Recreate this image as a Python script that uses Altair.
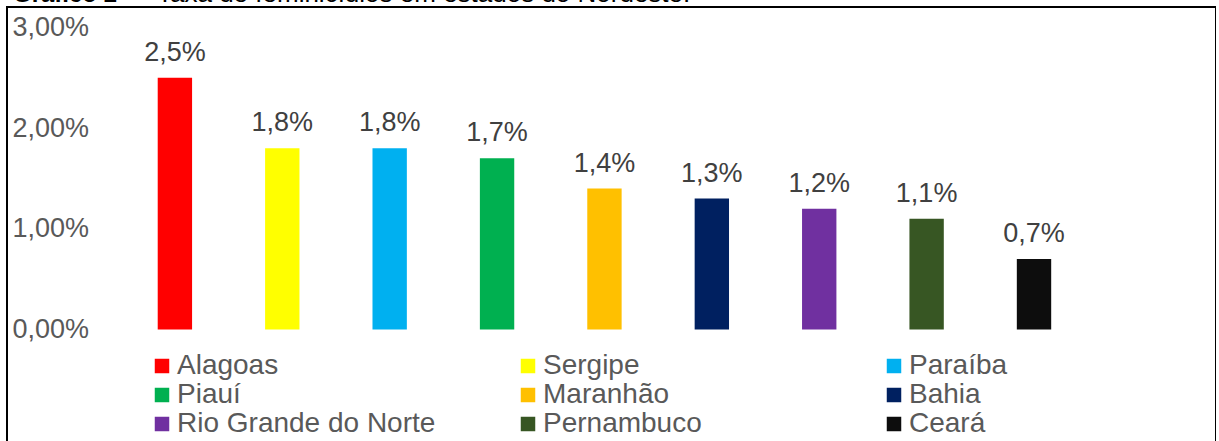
import altair as alt
import pandas as pd

# ---- data ----
states = ["Alagoas", "Sergipe", "Paraíba", "Piauí", "Maranhão", "Bahia",
          "Rio Grande do Norte", "Pernambuco", "Ceará"]
rates = [2.5, 1.8, 1.8, 1.7, 1.4, 1.3, 1.2, 1.1, 0.7]
colors = ["#FF0000", "#FFFF00", "#00B0F0", "#00B050", "#FFC000", "#002060",
          "#7030A0", "#375623", "#0D0D0D"]
y_ticks = [0, 1, 2, 3]
title_bold = "Gráfico 2 –"
title_rest = "Taxa de feminicídios em estados do Nordeste."

df = pd.DataFrame({"estado": states, "taxa": rates})
one = pd.DataFrame({"k": [0]})

FONT = "Liberation Sans"
W, H = 1209, 434

x_enc = alt.X("estado:N", sort=states, axis=None,
              scale=alt.Scale(range=[114.2, 1080.7], paddingInner=0.68, paddingOuter=0.34))
y_scale = alt.Scale(domain=[0, 3], range=[322.5, 20.4], nice=False)

bars = alt.Chart(df).mark_bar().encode(
    x=x_enc,
    y=alt.Y("taxa:Q", scale=y_scale,
            axis=alt.Axis(values=y_ticks, title=None,
                          labelExpr="replace(format(datum.value, '.2f'), '.', ',') + '%'")),
    color=alt.Color("estado:N",
                    scale=alt.Scale(domain=states, range=colors),
                    legend=alt.Legend(title=None, orient="none", legendX=141, legendY=345,
                                      direction="horizontal",
                                      columns=3, gridAlign="all", columnPadding=78,
                                      rowPadding=1, symbolType="square", symbolSize=210,
                                      symbolStrokeWidth=0, labelOffset=1, padding=0,
                                      labelFont=FONT, labelFontSize=28, labelColor="#595959",
                                      labelLimit=0)),
)

labels = alt.Chart(df).transform_calculate(
    lab="replace(format(datum.taxa, '.1f'), '.', ',') + '%'"
).mark_text(dy=-17, baseline="alphabetic", align="center", font=FONT,
            fontSize=27, color="#404040").encode(
    x=x_enc,
    y=alt.Y("taxa:Q", scale=y_scale),
    text="lab:N",
)

border = alt.Chart(one).mark_rect(filled=False, stroke="#000000", strokeWidth=2).encode(
    x=alt.value(0), x2=alt.value(W), y=alt.value(0), y2=alt.value(H + 30)
)

t1 = alt.Chart(one).mark_text(align="left", baseline="alphabetic", font=FONT,
                              fontSize=24, fontWeight="bold", color="#000000").encode(
    x=alt.value(6), y=alt.value(-5), text=alt.value(title_bold)
)
t2 = alt.Chart(one).mark_text(align="left", baseline="alphabetic", font=FONT,
                              fontSize=26, color="#000000").encode(
    x=alt.value(150), y=alt.value(-5), text=alt.value(title_rest)
)

chart = alt.layer(border, bars, labels, t1, t2).properties(
    width=W, height=H,
    autosize=alt.AutoSizeParams(type="none"),
    padding={"left": 7, "top": 7, "right": 0, "bottom": 0},
).configure_view(stroke=None).configure_axis(
    labelFont=FONT, labelFontSize=27, labelColor="#595959", labelAlign="left",
    labelPadding=-5, ticks=False, tickSize=0, domain=False, grid=False,
)

chart.save("out.html", embed_options={"renderer": "svg", "actions": False})
